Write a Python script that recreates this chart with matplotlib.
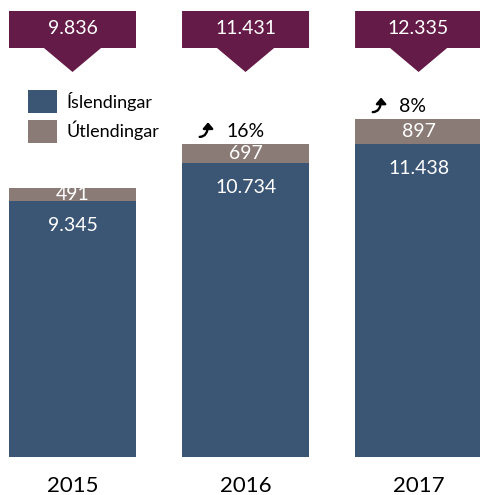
import matplotlib
matplotlib.use("Agg")
import matplotlib.pyplot as plt
import matplotlib.transforms as mtransforms
from matplotlib.patches import Patch, Polygon

plt.rcParams['font.family'] = ['Lato', 'DejaVu Sans']

years = ['2015', '2016', '2017']
islendingar = [9345, 10734, 11438]
utlendingar = [491, 697, 897]
growth = [None, '16%', '8%']

BLUE = '#3B5575'
GRAY = '#8A7B77'
PURPLE = '#651B47'

def fmt(v):
  # icelandic thousands separator
  return f"{v:,}".replace(",", ".")

fig = plt.figure(figsize=(4.8, 4.95), dpi=100)
ax = fig.add_axes([0, 38 / 495, 1, 457 / 495])
ax.set_xlim(-0.419, 2.355)
ax.set_ylim(0, 16680)
for s in ax.spines.values():
  s.set_visible(False)
ax.set_yticks([])

x = list(range(len(years)))
W = 0.734
ax.bar(x, islendingar, width=W, color=BLUE)
ax.bar(x, utlendingar, width=W, bottom=islendingar, color=GRAY)
ax.set_xticks(x)
ax.set_xticklabels(years, fontsize=16)
ax.tick_params(axis='x', length=0, pad=14)

totals = [a + b for a, b in zip(islendingar, utlendingar)]
for i in x:
  ax.annotate(fmt(islendingar[i]), (i, islendingar[i]), xytext=(0, -18),
              textcoords='offset points', ha='center', va='center',
              color='white', fontsize=14)
  ax.text(i, islendingar[i] + utlendingar[i] / 2, fmt(utlendingar[i]),
          ha='center', va='center', color='white', fontsize=14)
  if growth[i]:
    ax.annotate(growth[i], (i, totals[i]), xytext=(-14, 9),
                textcoords='offset points', ha='left', va='center',
                color='black', fontsize=14)
    # small curved "up" arrow
    head = mtransforms.offset_copy(ax.transData, fig=fig, x=-27, y=15.5, units='points')
    tail = mtransforms.offset_copy(ax.transData, fig=fig, x=-33, y=5, units='points')
    ax.annotate('', xy=(i, totals[i]), xycoords=head,
                xytext=(i, totals[i]), textcoords=tail,
                arrowprops=dict(arrowstyle='-|>,head_width=0.3,head_length=0.35',
                                connectionstyle='angle3,angleA=0,angleB=90', lw=1.7,
                                color='black', shrinkA=0, shrinkB=0))

# callouts with totals
trans = mtransforms.blended_transform_factory(ax.transData, ax.transAxes)
for i in x:
  box_top, box_bot, tip = 1 - 11 / 457, 1 - 48 / 457, 1 - 72 / 457
  hw, tw = W / 2, 0.165
  pts = [(i - hw, box_top), (i + hw, box_top), (i + hw, box_bot),
         (i + tw, box_bot), (i, tip), (i - tw, box_bot), (i - hw, box_bot)]
  ax.add_patch(Polygon(pts, closed=True, facecolor=PURPLE, edgecolor='none',
                       transform=trans, clip_on=False))
  ax.text(i, 1 - 28 / 457, fmt(totals[i]), transform=trans, ha='center',
          va='center', color='white', fontsize=14)

handles = [Patch(facecolor=BLUE, label='Íslendingar'),
           Patch(facecolor=GRAY, label='Útlendingar')]
ax.legend(handles=handles, loc='upper left', bbox_to_anchor=(28 / 480, 1 - 90 / 495),
          bbox_transform=fig.transFigure, frameon=False, fontsize=13,
          handlelength=1.6, handleheight=1.6, labelspacing=0.35,
          handletextpad=0.55, borderpad=0, borderaxespad=0)

fig.savefig('out.png', dpi=100)
